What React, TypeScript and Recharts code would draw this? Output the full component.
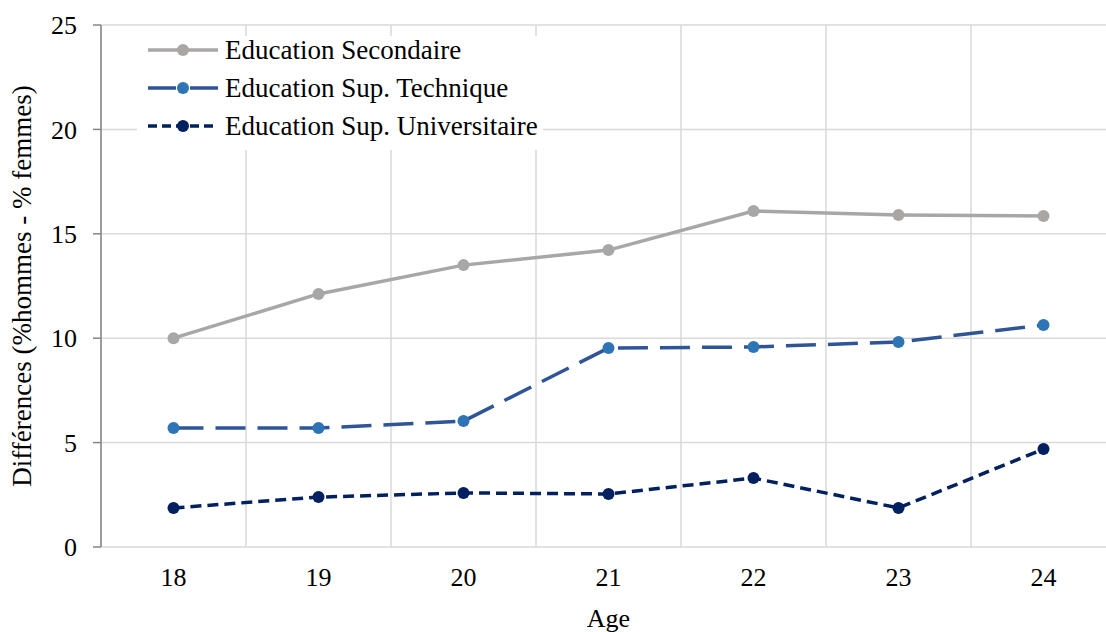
import React from 'react';
import { LineChart, Line, XAxis, YAxis, CartesianGrid, Legend } from 'recharts';

const ages = [18, 19, 20, 21, 22, 23, 24];
const secondaire = [10.0, 12.12, 13.5, 14.22, 16.09, 15.9, 15.85];
const technique = [5.7, 5.7, 6.03, 9.53, 9.58, 9.82, 10.63];
const universitaire = [1.87, 2.39, 2.59, 2.54, 3.3, 1.87, 4.69];
const yTicks = [0, 5, 10, 15, 20, 25];
const ageBounds = [17.5, 18.5, 19.5, 20.5, 21.5, 22.5, 23.5, 24.5];
const seriesNames = ['Education Secondaire', 'Education Sup. Technique', 'Education Sup. Universitaire'];

const data = ages.map((a, i) => ({
  age: a,
  sec: secondaire[i],
  tech: technique[i],
  univ: universitaire[i],
}));

const FONT = '"Liberation Serif", "Times New Roman", serif';

const series = [
  { key: 'sec', name: seriesNames[0], stroke: '#A9A6A6', dot: '#A9A6A6', dash: undefined as string | undefined, legendDash: undefined as string | undefined },
  { key: 'tech', name: seriesNames[1], stroke: '#2F5597', dot: '#2E75B6', dash: '30 12', legendDash: '28 14' },
  { key: 'univ', name: seriesNames[2], stroke: '#002060', dot: '#002060', dash: '11 6', legendDash: '9 5' },
];

const EmptyTick = () => <g />;

const LegendContent = () => (
  <div style={{ position: 'relative', background: '#fff', width: 406, height: 114, fontFamily: FONT }}>
    {series.map((s, i) => (
      <div key={s.key} style={{ position: 'absolute', left: 0, top: 0 + i * 38, height: 28, display: 'flex', alignItems: 'center' }}>
        <svg width={88} height={28} style={{ display: 'block' }}>
          <line x1={11} y1={14} x2={81} y2={14} stroke={s.stroke} strokeWidth={3.5} strokeDasharray={s.legendDash} />
          <circle cx={46} cy={14} r={6} fill={s.dot} />
        </svg>
        <span style={{ fontSize: 27, lineHeight: '28px', color: '#000', whiteSpace: 'nowrap' }}>{s.name}</span>
      </div>
    ))}
  </div>
);

export default function App() {
  return (
    <div style={{ position: 'absolute', left: 0, top: 0, width: 1106, height: 632, overflow: 'hidden', background: '#fff' }}>
      <LineChart width={1120} height={632} data={data} margin={{ top: 25, right: 4, left: 0, bottom: 0 }}>
        <CartesianGrid xAxisId="b" stroke="#D9D9D9" strokeWidth={1.5} verticalValues={ageBounds} />
        <YAxis
          type="number"
          domain={[0, 25]}
          ticks={yTicks}
          width={101}
          tickSize={8}
          tickMargin={16}
          axisLine={{ stroke: '#868686', strokeWidth: 1.5 }}
          tickLine={{ stroke: '#868686', strokeWidth: 1.5 }}
          tick={{ fill: '#000', fontSize: 26, fontFamily: FONT }}
          label={{
            value: 'Différences (%hommes - % femmes)',
            angle: -90,
            position: 'insideLeft',
            offset: 21,
            style: { textAnchor: 'middle', fontSize: 27, fontFamily: FONT, fill: '#000' },
          }}
        />
        <XAxis
          xAxisId="b"
          dataKey="age"
          type="number"
          domain={[17.5, 24.5]}
          ticks={ageBounds}
          tick={EmptyTick}
          tickSize={9}
          height={0}
          axisLine={{ stroke: '#868686', strokeWidth: 1.5 }}
          tickLine={{ stroke: '#868686', strokeWidth: 1.5 }}
        />
        <XAxis
          xAxisId="l"
          dataKey="age"
          type="number"
          domain={[17.5, 24.5]}
          ticks={ages}
          axisLine={false}
          tickLine={false}
          tickSize={0}
          tickMargin={21}
          height={85}
          tick={{ fill: '#000', fontSize: 26, fontFamily: FONT }}
          label={{
            value: 'Age',
            position: 'insideBottom',
            offset: 5,
            style: { fontSize: 26, fontFamily: FONT, fill: '#000' },
          }}
        />
        <Legend
          layout="horizontal"
          verticalAlign="middle"
          align="center"
          content={<LegendContent />}
          wrapperStyle={{ position: 'absolute', left: 137, top: 36, width: 406, height: 114 }}
        />
        {series.map((s) => (
          <Line
            key={s.key}
            xAxisId="b"
            type="linear"
            dataKey={s.key}
            name={s.name}
            stroke={s.stroke}
            strokeWidth={3.5}
            strokeDasharray={s.dash}
            dot={{ r: 6, fill: s.dot, stroke: s.dot, strokeWidth: 0 }}
            activeDot={false}
            isAnimationActive={false}
          />
        ))}
      </LineChart>
    </div>
  );
}
